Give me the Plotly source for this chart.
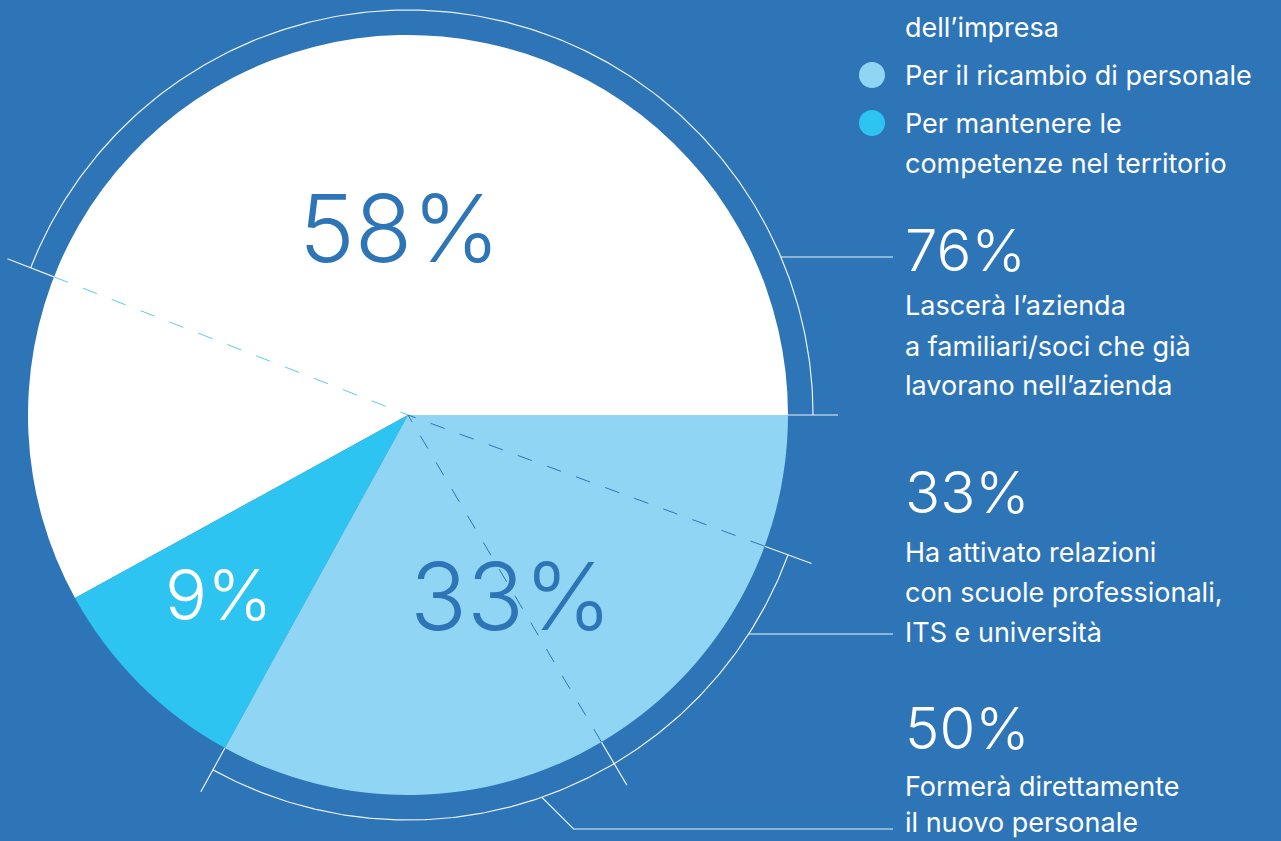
import numpy as np
import plotly.graph_objects as go

W, H = 1281, 841
BG = "#2e75b8"
WHITE = "#ffffff"
LIGHT = "#90d6f4"
CYAN = "#2ec4f2"
DASH_CYAN = "#56cdf3"
LINE = "rgba(255,255,255,0.9)"
FONT = "Inter"

# Pie slices, counter-clockwise from 3 o'clock
slice_values = [58, 9, 33]
slice_colors = [WHITE, CYAN, LIGHT]
slice_text_colors = [BG, WHITE, BG]

# Legend (first entry continues from above the visible area)
legend_lines = ["dell’impresa", "Per il ricambio di personale",
                "Per mantenere le", "competenze nel territorio"]
legend_dot_colors = [None, LIGHT, CYAN, None]

# Call-outs: share of the parent slice they bracket
callout_values = [76, 50, 33]
callout_lines = [
    ["Lascerà l’azienda", "a familiari/soci che già", "lavorano nell’azienda"],
    ["Formerà direttamente", "il nuovo personale"],
    ["Ha attivato relazioni", "con scuole professionali,", "ITS e università"],
]

# ---- geometry (pixel space, y pointing down) ----
CX, CY, R = 408, 415, 380
R_ARC, R_TICK = 405, 430
TEXT_X, LEAD_END = 903, 893


def pt(r, deg):
    a = np.radians(deg)
    return CX + r * np.cos(a), CY - r * np.sin(a)


def arc(r, a0, a1, n=200):
    t = np.radians(np.linspace(a0, a1, n))
    return CX + r * np.cos(t), CY - r * np.sin(t)


total = sum(slice_values)
starts = np.concatenate([[0], np.cumsum(slice_values)[:-1]]) / total * 360
spans = np.array(slice_values) / total * 360

# bracket spans derived from call-out values
b76 = (starts[0], starts[0] + callout_values[0] / 100 * spans[0])
b50 = (starts[2], starts[2] + callout_values[1] / 100 * spans[2])
b33 = (b50[1], b50[1] + callout_values[2] / 100 * spans[2])

fig = go.Figure()

# counter-clockwise pies put the first slice clockwise of `rotation`,
# so rotate by its span to have it start at 3 o'clock
fig.add_trace(go.Pie(
    values=slice_values, sort=False, direction="counterclockwise",
    rotation=90 - spans[0],
    marker=dict(colors=slice_colors, line=dict(width=0)),
    textinfo="none", hoverinfo="skip", showlegend=False,
    domain=dict(x=[(CX - R) / W, (CX + R) / W],
                y=[(H - CY - R) / H, (H - CY + R) / H]),
))


def line(xs, ys, width=1.2, color=LINE):
    fig.add_trace(go.Scatter(x=list(xs), y=list(ys), mode="lines",
                             line=dict(color=color, width=width),
                             hoverinfo="skip", showlegend=False))


# bracket arcs
line(*arc(R_ARC, *b76))
line(*arc(R_ARC, b50[0], b33[1]))

# radial ticks at bracket ends
for a in [b76[0], b76[1], b50[0], b50[1], b33[1]]:
    (x0, y0), (x1, y1) = pt(R, a), pt(R_TICK, a)
    line([x0, x1], [y0, y1])

# leader lines to the call-out texts
y76 = 257
x76 = CX + np.sqrt(R_ARC ** 2 - (CY - y76) ** 2)
line([x76, LEAD_END], [y76, y76], 1.1)

y33 = 634
x33 = CX + np.sqrt(R_ARC ** 2 - (y33 - CY) ** 2)
line([x33, LEAD_END], [y33, y33], 1.1)

xa, ya = pt(R_ARC, 289.3)
y50 = 829
line([xa, xa + (y50 - ya), LEAD_END], [ya, y50, y50], 1.1)

# dashed radii inside the pie
shapes = []
for a, col in [(b76[1], DASH_CYAN), (b50[1], BG), (b33[1], BG)]:
    xe, ye = pt(R, a)
    shapes.append(dict(type="line", xref="x", yref="y", x0=xe, y0=ye, x1=CX, y1=CY,
                       layer="above", line=dict(color=col, width=1, dash="15px,16px")))

annotations = []


def text(x, y, s, size, color=WHITE, weight=400, xanchor="left"):
    annotations.append(dict(x=x, y=y, xref="x", yref="y", text=s, showarrow=False,
                            xanchor=xanchor, yanchor="middle",
                            font=dict(family=FONT, size=size, color=color, weight=weight)))


# slice labels
slice_label_pos = [(399, 228), (219, 594), (511, 596)]
slice_label_size = [94, 70, 94]
for v, (x, y), s, c in zip(slice_values, slice_label_pos, slice_label_size, slice_text_colors):
    text(x, y, f"{v}%", s, c, 300, "center")

# legend
legend_y = [27, 75, 123, 163]
for s, y, c in zip(legend_lines, legend_y, legend_dot_colors):
    text(TEXT_X, y, s, 27)
    if c:
        shapes.append(dict(type="circle", xref="x", yref="y", x0=859, x1=885,
                           y0=y - 13, y1=y + 13, fillcolor=c, line=dict(width=0)))

# call-outs
callout_num_y = [250, 728, 492]
callout_line_y = [[305, 346, 385], [786, 822], [552, 592, 632]]
for v, ny, lines, ys in zip(callout_values, callout_num_y, callout_lines, callout_line_y):
    text(TEXT_X, ny, f"{v}%", 58, WHITE, 300)
    for s, y in zip(lines, ys):
        text(TEXT_X, y, s, 27)

fig.update_layout(
    width=W, height=H, margin=dict(l=0, r=0, t=0, b=0),
    paper_bgcolor=BG, plot_bgcolor=BG, showlegend=False,
    xaxis=dict(range=[0, W], visible=False, fixedrange=True),
    yaxis=dict(range=[H, 0], visible=False, fixedrange=True),
    shapes=shapes, annotations=annotations,
)

fig.write_html("out.html", config=dict(displayModeBar=False, staticPlot=True))
